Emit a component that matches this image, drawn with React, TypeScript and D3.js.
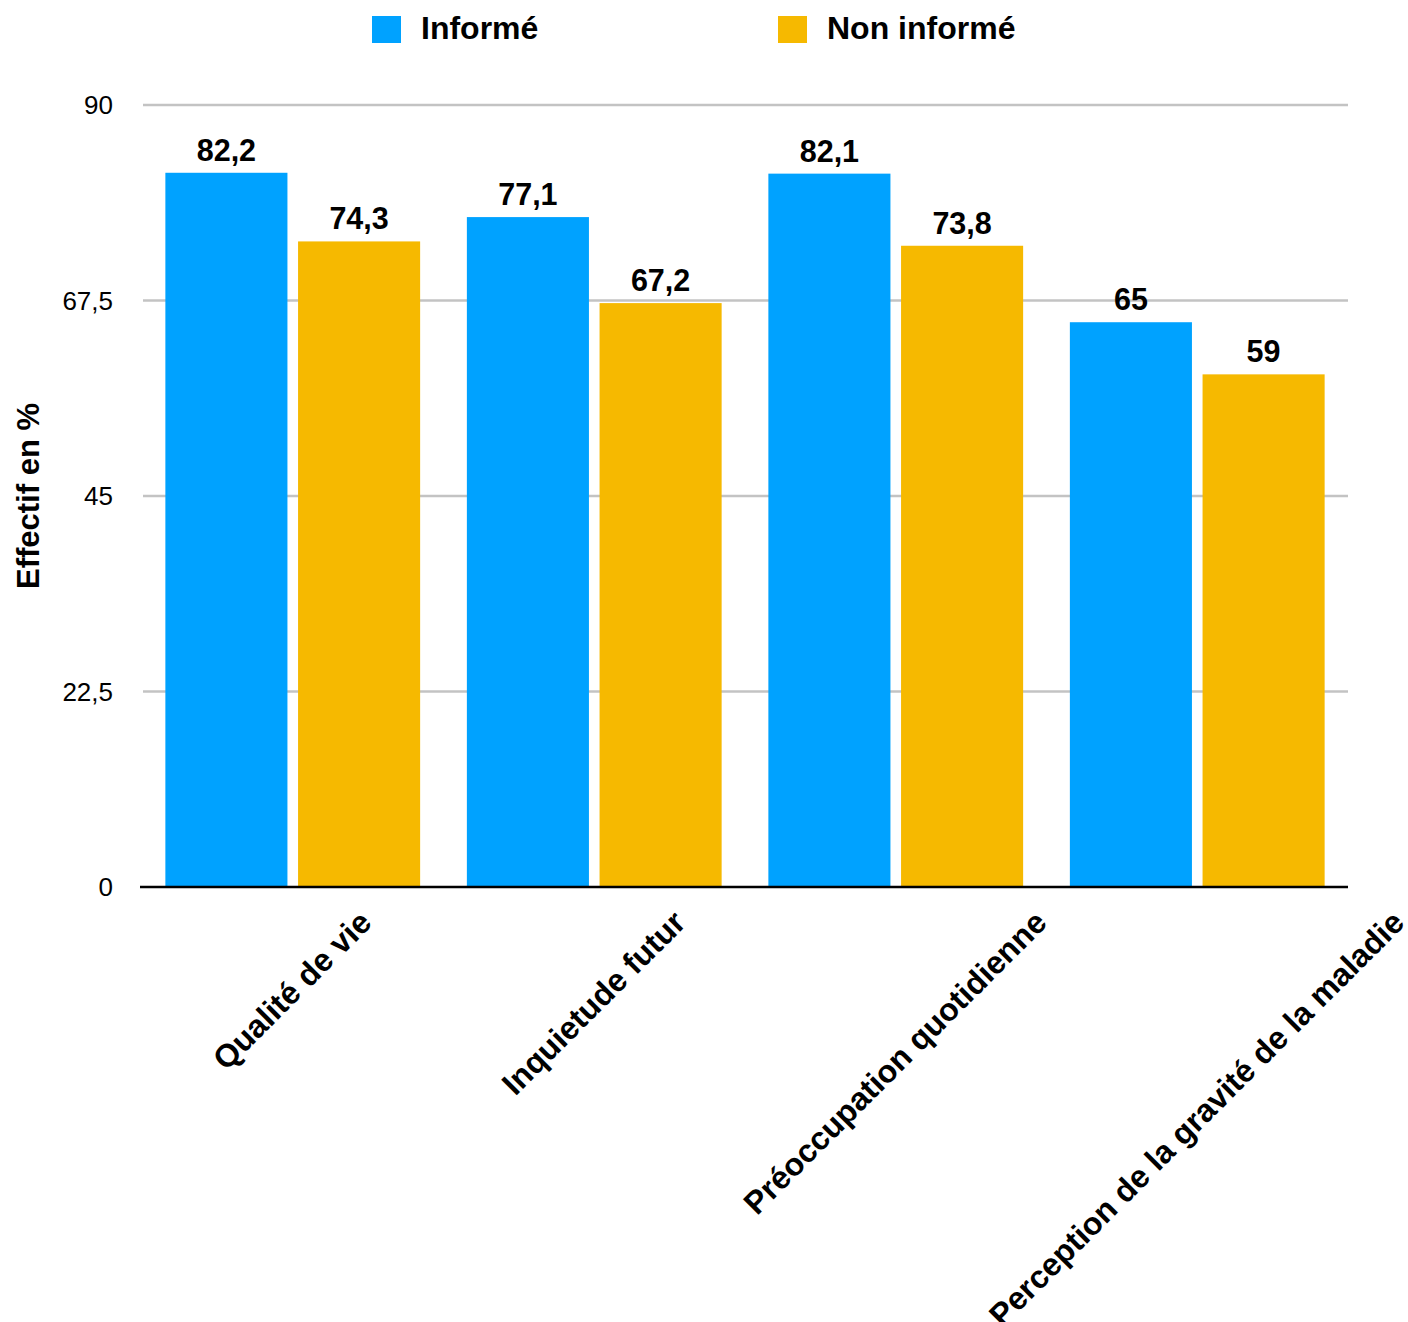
import React, { useMemo } from "react";
import * as d3 from "d3";

const categories = [
  "Qualité de vie",
  "Inquietude futur",
  "Préoccupation quotidienne",
  "Perception de la gravité de la maladie",
];
const seriesNames = ["Informé", "Non informé"];
const informe = [82.2, 77.1, 82.1, 65];
const nonInforme = [74.3, 67.2, 73.8, 59];
const yTicks = [0, 22.5, 45, 67.5, 90];
const colors = ["#00a2ff", "#f6b900"];

const FONT = "'Liberation Sans', Arial, Helvetica, sans-serif";
const W = 1408;
const H = 1322;

const fmt = (v: number) => String(v).replace(".", ",");

function measure(text: string, font: string): number {
  if (typeof document === "undefined") return text.length * 15;
  const c = document.createElement("canvas");
  const ctx = c.getContext("2d");
  if (!ctx) return text.length * 15;
  ctx.font = font;
  return ctx.measureText(text).width;
}

export default function App() {
  const left = 140;
  const right = 1348;
  const top = 105;
  const bottom = 887;
  const xFont = 32;

  const y = d3.scaleLinear().domain([0, 90]).range([bottom, top]);
  const x0 = d3
    .scaleBand<string>()
    .domain(categories)
    .range([142, right])
    .paddingInner(0.155)
    .paddingOuter(0.0775);
  const x1 = d3
    .scaleBand<number>()
    .domain([0, 1])
    .range([0, x0.bandwidth()])
    .paddingInner(0.08);

  const series = [informe, nonInforme];

  const labelLens = useMemo(
    () => categories.map((c) => measure(c, `bold ${xFont}px ${FONT}`)),
    []
  );

  return (
    <svg
      width={W}
      height={H}
      viewBox={`0 0 ${W} ${H}`}
      style={{ display: "block", position: "absolute", left: 0, top: 0, background: "#fff" }}
    >
      <rect x={0} y={0} width={W} height={H} fill="#fff" />
      {/* Legend */}
      {seriesNames.map((s, i) => {
        const lx = i === 0 ? 372 : 778;
        return (
          <g key={s}>
            <rect x={lx} y={16} width={29} height={27} fill={colors[i]} />
            <text
              x={lx + 49}
              y={39}
              fontFamily={FONT}
              fontWeight="bold"
              fontSize={32}
              fill="#000"
            >
              {s}
            </text>
          </g>
        );
      })}

      {/* Gridlines and y ticks */}
      {yTicks.map((t) => (
        <g key={t}>
          {t !== 0 && (
            <line
              x1={143}
              x2={right}
              y1={y(t)}
              y2={y(t)}
              stroke="#c3c3c3"
              strokeWidth={2.5}
            />
          )}
          <text
            x={113}
            y={y(t) + 9}
            textAnchor="end"
            fontFamily={FONT}
            fontSize={26}
            fill="#000"
          >
            {fmt(t)}
          </text>
        </g>
      ))}

      {/* Y title */}
      <text
        transform={`translate(39, 496) rotate(-90)`}
        textAnchor="middle"
        fontFamily={FONT}
        fontWeight="bold"
        fontSize={31}
        fill="#000"
      >
        Effectif en %
      </text>

      {/* Bars */}
      {categories.map((c, ci) => (
        <g key={c} transform={`translate(${x0(c)},0)`}>
          {series.map((vals, si) => {
            const v = vals[ci];
            const bx = x1(si) as number;
            return (
              <g key={si}>
                <rect
                  x={bx}
                  y={y(v)}
                  width={x1.bandwidth()}
                  height={bottom - y(v)}
                  fill={colors[si]}
                />
                <text
                  x={bx + x1.bandwidth() / 2}
                  y={y(v) - 12}
                  textAnchor="middle"
                  fontFamily={FONT}
                  fontWeight="bold"
                  fontSize={30.5}
                  fill="#000"
                >
                  {fmt(v)}
                </text>
              </g>
            );
          })}
        </g>
      ))}

      {/* X axis line */}
      <line x1={left} x2={right} y1={bottom} y2={bottom} stroke="#000" strokeWidth={2.5} />

      {/* X labels */}
      {categories.map((c, ci) => {
        const cx = (x0(c) as number) + x0.bandwidth() / 2 + 7;
        const L = labelLens[ci];
        const py = 908 + 0.3536 * L + 16.5;
        return (
          <text
            key={c}
            transform={`translate(${cx}, ${py}) rotate(-45)`}
            textAnchor="middle"
            fontFamily={FONT}
            fontWeight="bold"
            fontSize={xFont}
            fill="#000"
          >
            {c}
          </text>
        );
      })}
    </svg>
  );
}
